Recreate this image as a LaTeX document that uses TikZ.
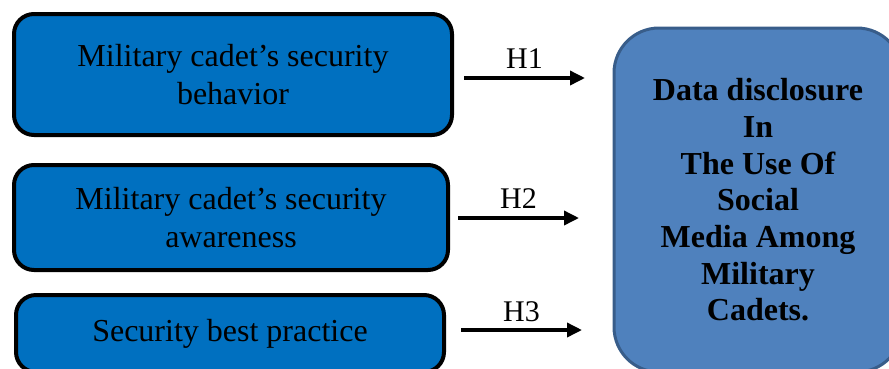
\documentclass[tikz,border=0pt]{standalone}
\usepackage{fontspec}
\setmainfont{Liberation Serif}
\usetikzlibrary{arrows.meta}
\definecolor{factorblue}{HTML}{0070C0}
\definecolor{outcomeblue}{HTML}{4F81BD}
\definecolor{outcomeline}{HTML}{385D8A}
\begin{document}
\begin{tikzpicture}[x=1pt,y=-1pt,
	factor/.style={draw=black,line width=4pt,fill=factorblue,rounded corners=20pt,
		align=center,inner sep=0pt,font=\fontsize{32}{38}\selectfont},
	outcome/.style={draw=outcomeline,line width=3pt,fill=outcomeblue,rounded corners=45pt,
		align=center,inner sep=0pt,font=\bfseries\fontsize{32}{36.7}\selectfont},
	hyp/.style={line width=3.5pt,-{Triangle[length=15pt,width=14pt]}},
	hlab/.style={above,inner sep=8pt,font=\fontsize{30}{34}\selectfont}]
	\useasboundingbox (0,0) rectangle (889,368);
	% independent variables
	\node[factor,minimum width=438pt,minimum height=121pt] (behavior) at (233,74.5)
		{Military cadet’s security\\behavior};
	\node[factor,minimum width=434pt,minimum height=105pt] (awareness) at (231,217.5)
		{Military cadet’s security\\awareness};
	\node[factor,minimum width=428pt,minimum height=77pt] (practice) at (230,333.5)
		{Security best practice};
	% dependent variable
	\node[outcome,minimum width=288pt,minimum height=344pt] (disclosure) at (758,200)
		{Data disclosure\\In\\The Use Of\\Social\\Media Among\\Military\\Cadets.};
	% hypotheses
	\coordinate (h1s) at (464,78);
	\coordinate (h1e) at (585,78);
	\coordinate (h2s) at (458,218);
	\coordinate (h2e) at (579,218);
	\coordinate (h3s) at (461,330);
	\coordinate (h3e) at (582,330);
	\draw[hyp] (h1s) -- (h1e) node[hlab,midway] (h1) {H1};
	\draw[hyp] (h2s) -- (h2e) node[hlab,midway] (h2) {H2};
	\draw[hyp] (h3s) -- (h3e) node[hlab,midway,inner sep=6pt] (h3) {H3};
\end{tikzpicture}
\end{document}
